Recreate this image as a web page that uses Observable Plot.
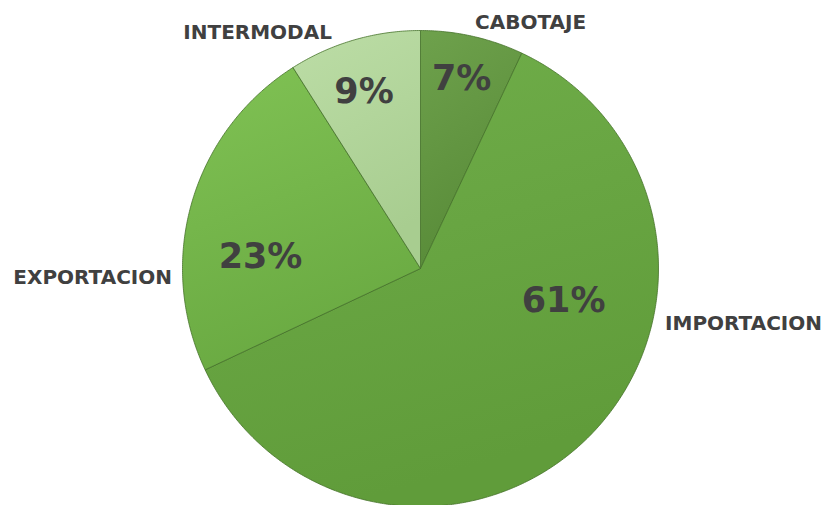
<!DOCTYPE html>
<html><head><meta charset="utf-8">
<script src="https://cdn.jsdelivr.net/npm/d3@7"></script>
<script src="https://cdn.jsdelivr.net/npm/@observablehq/plot@0.6"></script>
<style>html,body{margin:0;padding:0;background:#fff;overflow:hidden}</style>
</head><body><div id="chart"></div>
<script>
// ---- data ----
const categories = ["CABOTAJE", "IMPORTACION", "EXPORTACION", "INTERMODAL"];
const shares = [7, 61, 23, 9];
const pctLabels = ["7%", "61%", "23%", "9%"];

// ---- styling / layout (not data) ----
const lightColors = ["#6ea14c", "#70ae4a", "#80c254", "#bcdda6"];
const darkColors  = ["#588b38", "#609c3a", "#6aaa42", "#a8cd90"];
// label placement in polar terms (degrees clockwise from 12 o'clock, radius in pie radii)
const catAngle = [24.1, 99.7, 268.4, 325.4];
const catRadius = [1.132, 1.377, 1.378, 1.205];
const pctAngle = [12.2, 102.6, 274.3, 342.3];
const pctRadius = [0.817, 0.616, 0.674, 0.78];

const W = 827, H = 505, R = 238, CX = 420, CY = 268;

const pie = d3.pie().sort(null).value(d => d)(shares);

const slices = pie.map((p, i) => {
  const n = Math.max(8, Math.ceil((p.endAngle - p.startAngle) * 120));
  const pts = [{x: 0, y: 0}];
  for (let k = 0; k <= n; k++) {
    const a = p.startAngle + (p.endAngle - p.startAngle) * k / n;
    pts.push({x: Math.sin(a), y: Math.cos(a)});
  }
  pts.push({x: 0, y: 0});
  return pts;
});

const circle = d3.range(0, 361).map(d => ({x: Math.sin(d * Math.PI / 180), y: Math.cos(d * Math.PI / 180)}));

const rad = d => d * Math.PI / 180;
const catText = categories.map((c, i) => ({
  label: c, x: catRadius[i] * Math.sin(rad(catAngle[i])), y: catRadius[i] * Math.cos(rad(catAngle[i]))
}));
const pctText = pctLabels.map((c, i) => ({
  label: c, x: pctRadius[i] * Math.sin(rad(pctAngle[i])), y: pctRadius[i] * Math.cos(rad(pctAngle[i]))
}));

const defs = () => {
  const d = d3.create("svg:defs");
  lightColors.forEach((c, i) => {
    const g = d.append("linearGradient").attr("id", "g" + i)
      .attr("x1", 0).attr("y1", 0).attr("x2", 0.3).attr("y2", 1);
    g.append("stop").attr("offset", "0%").attr("stop-color", c);
    g.append("stop").attr("offset", "100%").attr("stop-color", darkColors[i]);
  });
  const f = d.append("filter").attr("id", "shadow").attr("x", "-10%").attr("y", "-10%").attr("width", "130%").attr("height", "130%");
  f.append("feGaussianBlur").attr("stdDeviation", 3);
  return d.node();
};

const plot = Plot.plot({
  width: W, height: H,
  margin: 0,
  x: {domain: [-CX / R, (W - CX) / R], axis: null},
  y: {domain: [-(H - CY) / R, CY / R], axis: null},
  marks: [
    defs,
    Plot.line(circle.map(p => ({x: p.x + 0.012, y: p.y - 0.016})), {x: "x", y: "y", fill: "#000", fillOpacity: 0.35, stroke: "none", ariaLabel: "shadow"}),
    ...slices.map((s, i) => Plot.line(s, {x: "x", y: "y", fill: `url(#g${i})`, stroke: "#47732b", strokeWidth: 0.9, strokeOpacity: 0.9, curve: "linear"})),
    ...slices.map((s, i) => Plot.line(s, {x: "x", y: "y", fill: "none", stroke: "#ffffff", strokeWidth: 5, strokeOpacity: 0.14, ariaLabel: "bevel"})),
    Plot.text(pctText, {x: "x", y: "y", text: "label", fontFamily: "DejaVu Sans", fontWeight: "bold", fontSize: 35, fill: "#404040", textAnchor: "middle", lineAnchor: "middle"}),
    Plot.text(catText, {x: "x", y: "y", text: "label", fontFamily: "DejaVu Sans", fontWeight: "bold", fontSize: 20, fill: "#404040", textAnchor: "middle", lineAnchor: "middle"})
  ]
});
d3.select(plot).selectAll('g[aria-label="shadow"] path').attr("filter", "url(#shadow)");
document.getElementById("chart").appendChild(plot);
</script>
</body></html>
